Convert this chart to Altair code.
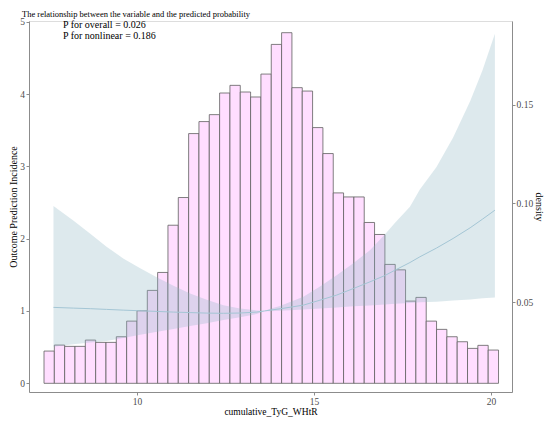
import altair as alt
import pandas as pd

# ---------------- data ----------------
bin_start = 7.373
bin_width = 0.2918
bar_heights = [0.446, 0.529, 0.511, 0.511, 0.598, 0.566, 0.566, 0.644, 0.860, 1.003,
               1.285, 1.533, 2.186, 2.569, 3.453, 3.619, 3.715, 4.014, 4.120, 4.028,
               3.959, 4.276, 4.686, 4.848, 4.088, 4.041, 3.536, 3.177, 2.633, 2.577,
               2.577, 2.224, 2.058, 1.644, 1.569, 1.137, 1.188, 0.860, 0.746, 0.644,
               0.575, 0.483, 0.525, 0.460]

curve_x = [7.64, 8.20, 8.68, 9.14, 9.61, 10.09, 10.57, 11.03, 11.50, 11.97, 12.44, 12.91,
           13.38, 13.60, 13.76, 14.04, 14.70, 15.17, 15.64, 16.11, 16.58, 17.00, 17.29,
           17.71, 17.99, 18.46, 18.93, 19.41, 19.76, 20.11]
curve_fit = [1.050, 1.040, 1.032, 1.022, 1.012, 1.003, 0.994, 0.985, 0.978, 0.971, 0.968, 0.972,
             0.985, 1.000, 1.012, 1.030, 1.081, 1.150, 1.220, 1.310, 1.403, 1.490, 1.565,
             1.670, 1.749, 1.870, 2.003, 2.150, 2.270, 2.394]
curve_lower = [0.506, 0.540, 0.565, 0.585, 0.625, 0.670, 0.713, 0.752, 0.791, 0.832, 0.874, 0.915,
               0.957, 1.000, 0.995, 1.005, 1.022, 1.036, 1.050, 1.064, 1.077, 1.090, 1.100,
               1.112, 1.120, 1.128, 1.145, 1.160, 1.175, 1.188]
curve_upper = [2.453, 2.250, 2.068, 1.890, 1.727, 1.590, 1.464, 1.350, 1.243, 1.155, 1.081, 1.035,
               1.008, 1.000, 1.030, 1.070, 1.196, 1.340, 1.496, 1.660, 1.841, 2.058, 2.220,
               2.440, 2.680, 2.990, 3.400, 3.900, 4.330, 4.834]

ann_x = [7.91, 7.91]
ann_y = [4.949, 4.797]
ann_text = ["P for overall = 0.026", "P for nonlinear = 0.186"]

left_ticks = [0, 1, 2, 3, 4, 5]
right_ticks = [0.05, 0.10, 0.15]
x_ticks = [10, 15, 20]

# ---------------- tables ----------------
bars = pd.DataFrame({
    "left": [bin_start + i * bin_width for i in range(len(bar_heights))],
    "right": [bin_start + (i + 1) * bin_width for i in range(len(bar_heights))],
    "h": bar_heights,
})
curve = pd.DataFrame({"x": curve_x, "fit": curve_fit, "lo": curve_lower, "hi": curve_upper})
ann = pd.DataFrame({"x": ann_x, "y": ann_y, "t": ann_text})
dens = pd.DataFrame({"d": right_ticks})

FONT = "Liberation Serif"
GRAY = "#8c8c8c"
LAB = "#4d4d4d"

xscale = alt.Scale(domain=[6.949, 20.593], nice=False, zero=False)
yscale = alt.Scale(domain=[-0.120, 5.0097], nice=False, zero=False)
dscale = alt.Scale(domain=[0.0046, 0.19226], nice=False, zero=False)

xaxis = alt.Axis(values=x_ticks, format="d", title="cumulative_TyG_WHtR", grid=False,
                 tickSize=3, labelPadding=1, titlePadding=1,
                 domainColor=GRAY, tickColor=GRAY, labelColor=LAB, titleColor="black",
                 labelFont=FONT, titleFont=FONT, labelFontSize=9.5, titleFontSize=9.5,
                 titleFontWeight="normal")
yaxis = alt.Axis(values=left_ticks, format="d", title="Outcome Prediction Incidence", grid=False,
                 tickSize=3, labelPadding=1.5, titlePadding=1.5,
                 domainColor=GRAY, tickColor=GRAY, labelColor=LAB, titleColor="black",
                 labelFont=FONT, titleFont=FONT, labelFontSize=9.5, titleFontSize=10,
                 titleFontWeight="normal")
daxis = alt.Axis(orient="right", values=right_ticks, format=".2f", title="density", grid=False,
                 tickSize=3, labelPadding=1, titlePadding=1,
                 domainColor=GRAY, tickColor=GRAY, labelColor=LAB, titleColor="black",
                 labelFont=FONT, titleFont=FONT, labelFontSize=9.5, titleFontSize=10,
                 titleFontWeight="normal")

hist = alt.Chart(bars).mark_rect(fill="#ffdeff", stroke="#5f5f5f", strokeWidth=0.8).encode(
    x=alt.X("left:Q", scale=xscale, axis=xaxis),
    x2="right:Q",
    y=alt.Y("h:Q", scale=yscale, axis=yaxis),
    y2=alt.datum(0),
)

ribbon = alt.Chart(curve).mark_area(color="#8db5c3", opacity=0.3).encode(
    x=alt.X("x:Q", scale=xscale),
    y=alt.Y("lo:Q", scale=yscale),
    y2="hi:Q",
)

line = alt.Chart(curve).mark_line(color="#a4c6d5", strokeWidth=1).encode(
    x=alt.X("x:Q", scale=xscale),
    y=alt.Y("fit:Q", scale=yscale),
)

text = alt.Chart(ann).mark_text(align="left", baseline="middle", font=FONT, fontSize=10,
                                color="black").encode(
    x=alt.X("x:Q", scale=xscale),
    y=alt.Y("y:Q", scale=yscale),
    text="t:N",
)

primary = alt.layer(hist, ribbon, line, text)

density = alt.Chart(dens).mark_point(opacity=0).encode(
    y=alt.Y("d:Q", scale=dscale, axis=daxis),
)

chart = alt.layer(primary, density).resolve_scale(y="independent").properties(
    width=483,
    height=371,
    autosize=alt.AutoSizeParams(type="none"),
    padding={"left": 21, "top": 13, "right": 34, "bottom": 26},
    title=alt.TitleParams(
        "The relationship between the variable and the predicted probability",
        anchor="start", frame="group", font=FONT, fontSize=8.5, fontWeight="normal",
        color="black", offset=2, dx=-7, dy=3.5,
    ),
).configure_view(stroke=GRAY, strokeWidth=1).configure(background="white")

chart.save("out.html", embed_options={"renderer": "svg", "actions": False})
